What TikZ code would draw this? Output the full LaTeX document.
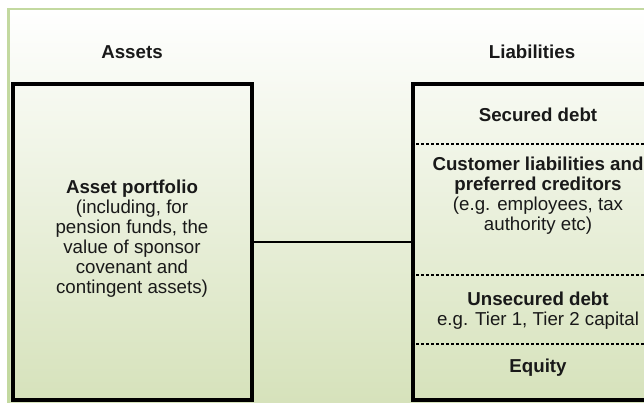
\documentclass[tikz,border=0pt]{standalone}
\usepackage{fontspec}
\setmainfont{Liberation Sans}
\definecolor{framegreen}{HTML}{C3D9A0}
\definecolor{shadegreen}{HTML}{D6E2BB}
\tikzset{
  txt/.style={font=\fontsize{18.7}{20}\selectfont, align=center, inner sep=0pt, text=black!90},
  bigbox/.style={draw=black, line width=4pt, minimum height=316pt, inner sep=0pt},
  divider/.style={draw=black, line width=1.5pt, dash pattern=on 3pt off 2pt},
  link/.style={draw=black, line width=1.6pt}
}
\begin{document}
\begin{tikzpicture}[x=1pt,y=-1pt]
\useasboundingbox (0,0) rectangle (644,402);
\clip (0,0) rectangle (644,402);
\shade[top color=white, bottom color=shadegreen] (8.5,9) rectangle (670,402);
\draw[framegreen, line width=2.5pt] (8.5,420) -- (8.5,9) -- (670,9);

\node[txt] (hA) at (132,52) {\textbf{Assets}};
\node[txt] (hL) at (532,52) {\textbf{Liabilities}};

\node[bigbox, minimum width=239pt] (L) at (132.5,242) {};
\node[bigbox, minimum width=251pt] (R) at (538.5,242) {};

\node[txt] (Lt) at (132,238.5) {\textbf{Asset portfolio}\\(including, for\\pension funds, the\\value of sponsor\\covenant and\\contingent assets)};

\draw[divider] ([yshift=-62pt]R.north west) -- ([yshift=-62pt]R.north east);
\draw[divider] ([yshift=-193pt]R.north west) -- ([yshift=-193pt]R.north east);
\draw[divider] ([yshift=-262pt]R.north west) -- ([yshift=-262pt]R.north east);

\node[txt] (sd) at (538,115) {\textbf{Secured debt}};
\node[txt] (cl) at (538,195.5) {\textbf{Customer liabilities and}\\\textbf{preferred creditors}\\(e.g. employees, tax\\authority etc)};
\node[txt] (ud) at (538,311) {\textbf{Unsecured debt}\\e.g. Tier 1, Tier 2 capital};
\node[txt] (eq) at (538,368) {\textbf{Equity}};

\draw[link] (L.east) -- (R.west);
\end{tikzpicture}
\end{document}
